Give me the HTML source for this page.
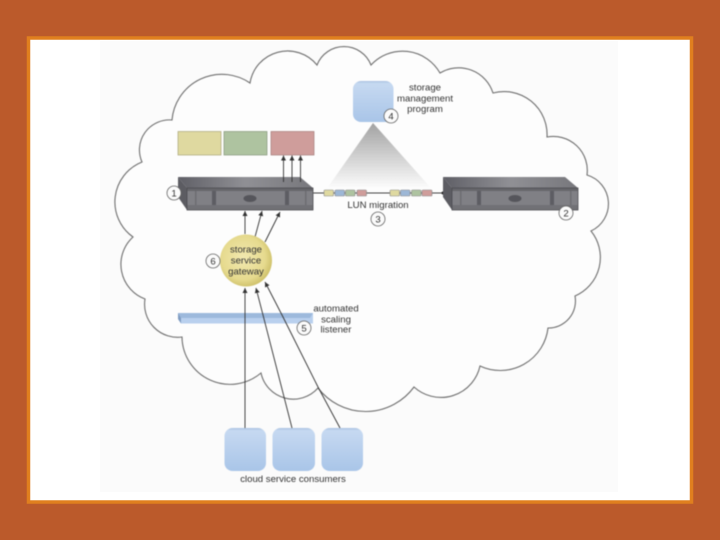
<!DOCTYPE html>
<html>
<head>
<meta charset="utf-8">
<style>
html,body{margin:0;padding:0;background:#bb5a2b}
svg{display:block}
text{font-family:"Liberation Sans",sans-serif;font-size:9.6px;fill:#333;text-anchor:middle}
.soft{filter:blur(0.45px)}
</style>
</head>
<body>
<svg width="720" height="540" viewBox="0 0 720 540" xmlns="http://www.w3.org/2000/svg">
<defs>
<linearGradient id="blue" x1="0" y1="0" x2="0" y2="1"><stop offset="0" stop-color="#a9c1e0"/><stop offset="0.06" stop-color="#c6d9f1"/><stop offset="1" stop-color="#a9c5e8"/></linearGradient>
<linearGradient id="tri" x1="0" y1="0" x2="0" y2="1"><stop offset="0" stop-color="#a2a2a2"/><stop offset="1" stop-color="#fbfbfb"/></linearGradient>
<linearGradient id="top" x1="0" y1="0" x2="1" y2="0"><stop offset="0" stop-color="#5f5f66"/><stop offset="0.5" stop-color="#909095"/><stop offset="1" stop-color="#77777c"/></linearGradient>
<radialGradient id="gw" cx="0.45" cy="0.45" r="0.6"><stop offset="0" stop-color="#f2e9b0"/><stop offset="0.7" stop-color="#e6da8e"/><stop offset="1" stop-color="#c9bb62"/></radialGradient>
<marker id="a" markerWidth="6" markerHeight="6" refX="5" refY="2.5" orient="auto" markerUnits="userSpaceOnUse"><path d="M0 0L5 2.5L0 5Z" fill="#333"/></marker>
<g id="srv">
<polygon points="178,177 300,177 313,188 187,188" fill="url(#top)"/>
<polygon points="178,177 187,188 187,210 178,197" fill="#5c5c62"/>
<rect x="187" y="188" width="126" height="22" fill="#808085"/>
<rect x="187" y="188" width="126" height="3" fill="#66666b"/>
<rect x="187" y="205" width="126" height="5" fill="#717176"/>
<rect x="195" y="191" width="1.500" height="14" fill="#6d6d72"/>
<rect x="212" y="191" width="4" height="14" fill="#5d5d63"/>
<rect x="285" y="191" width="4" height="14" fill="#5d5d63"/>
<rect x="305" y="191" width="1.500" height="14" fill="#6d6d72"/>
<ellipse cx="250" cy="198.500" rx="6.500" ry="3.500" fill="#55555b"/>
<rect x="187" y="188" width="126" height="22" fill="none" stroke="#4d4d52" stroke-width="0.8"/>
</g>
</defs>

<rect width="720" height="540" fill="#bb5a2b"/>
<rect x="28.500" y="38" width="663" height="464" fill="#ffffff" stroke="#e07f1e" stroke-width="3.500"/>
<rect x="100" y="41" width="518" height="451" fill="#fbfbfb"/>

<g class="soft">
<path d="M317 65A29 29 0 0 1 371 65A43 43 0 0 1 440 73A36 36 0 0 1 493 93A43 43 0 0 1 547 137A34 34 0 0 1 587 175A30 30 0 0 1 591 231A42 42 0 0 1 575 296A27 27 0 0 1 548 328A48 48 0 0 1 480 366A40 40 0 0 1 414 387A60 60 0 0 1 318 388A33 33 0 0 1 261 373A48 48 0 0 1 182 337A33 33 0 0 1 145 299A37 37 0 0 1 133 237A43 43 0 0 1 142 162A30 30 0 0 1 172 120A50 50 0 0 1 250 83A38 38 0 0 1 317 65Z" fill="#fdfdfd" stroke="#6f6f6f" stroke-width="1.100"/>

<rect x="178" y="131.500" width="43" height="23.500" fill="#dfd9a0" stroke="#aaa67a" stroke-width="0.7"/>
<rect x="224" y="131.500" width="43" height="23.500" fill="#aec3a0" stroke="#86987c" stroke-width="0.7"/>
<rect x="271" y="131.500" width="43" height="23.500" fill="#cf9d9b" stroke="#a57c7b" stroke-width="0.7"/>

<polygon points="373,123 430,187 328,187" fill="url(#tri)"/>

<path d="M313 193H443" stroke="#444" stroke-width="1"/>
<circle cx="443" cy="193" r="1.500" fill="#222"/>
<g stroke-width="0.6">
<rect x="324" y="190" width="9.500" height="6" rx="1" fill="#dfd9a0" stroke="#888"/>
<rect x="335" y="190" width="9.500" height="6" rx="1" fill="#9db7d6" stroke="#888"/>
<rect x="345.500" y="190" width="9.500" height="6" rx="1" fill="#aec3a0" stroke="#888"/>
<rect x="357" y="190" width="9.500" height="6" rx="1" fill="#cf9d9b" stroke="#888"/>
<rect x="390" y="190" width="9.500" height="6" rx="1" fill="#dfd9a0" stroke="#888"/>
<rect x="400.500" y="190" width="9.500" height="6" rx="1" fill="#9db7d6" stroke="#888"/>
<rect x="411.500" y="190" width="9.500" height="6" rx="1" fill="#aec3a0" stroke="#888"/>
<rect x="422" y="190" width="10" height="6" rx="1" fill="#cf9d9b" stroke="#888"/>
</g>

<use href="#srv"/>
<use href="#srv" x="265"/>

<g stroke="#333" stroke-width="0.9" fill="none">
<path d="M283.500 182V155.500" marker-end="url(#a)"/>
<path d="M292 182V155.500" marker-end="url(#a)"/>
<path d="M300.500 182V155.500" marker-end="url(#a)"/>
<path d="M245 234V211" marker-end="url(#a)"/>
<path d="M255 237L262 211" marker-end="url(#a)"/>
<path d="M265 242L280 212" marker-end="url(#a)"/>
</g>

<circle cx="246" cy="260.500" r="26" fill="url(#gw)"/>

<polygon points="178,313 313,313 313,323.500 181,323.500 178,319" fill="#b9d0ee"/>
<polygon points="178,313 313,313 310,318 181,318" fill="#9db9dc"/>
<polygon points="178,313 181,318 181,323.500 178,319" fill="#7f9cc2"/>

<g stroke="#333" stroke-width="0.9" fill="none">
<path d="M245 428V288" marker-end="url(#a)"/>
<path d="M292 428L263 315L256 288" marker-end="url(#a)"/>
<path d="M340 428L318 387L282 315L265 282" marker-end="url(#a)"/>
</g>

<rect x="353" y="81" width="40.500" height="41" rx="8" fill="url(#blue)"/>
<rect x="224.500" y="428" width="41.500" height="43" rx="8" fill="url(#blue)"/>
<rect x="272.500" y="428" width="42.500" height="43" rx="8" fill="url(#blue)"/>
<rect x="321.500" y="428" width="41.500" height="43" rx="8" fill="url(#blue)"/>

<g fill="#fbfbfb" stroke="#666" stroke-width="0.8">
<circle cx="174" cy="193" r="7"/>
<circle cx="566" cy="213" r="7"/>
<circle cx="378" cy="219" r="7"/>
<circle cx="391" cy="116" r="7"/>
<circle cx="304" cy="328" r="7"/>
<circle cx="213" cy="261" r="7"/>
</g>
<text x="174" y="196.500">1</text>
<text x="566" y="216.500">2</text>
<text x="378" y="222.500">3</text>
<text x="391" y="119.500">4</text>
<text x="304" y="331.500">5</text>
<text x="213" y="264.500">6</text>

<text x="425" y="90.500">storage</text>
<text x="425" y="101.500">management</text>
<text x="425" y="112">program</text>
<text x="378" y="208">LUN migration</text>
<text x="246" y="252.500">storage</text>
<text x="246" y="263.500">service</text>
<text x="246" y="274.500">gateway</text>
<text x="336" y="311.500">automated</text>
<text x="336" y="322.500">scaling</text>
<text x="336" y="332.500">listener</text>
<text x="293" y="482">cloud service consumers</text>
</g>
</svg>
</body>
</html>
